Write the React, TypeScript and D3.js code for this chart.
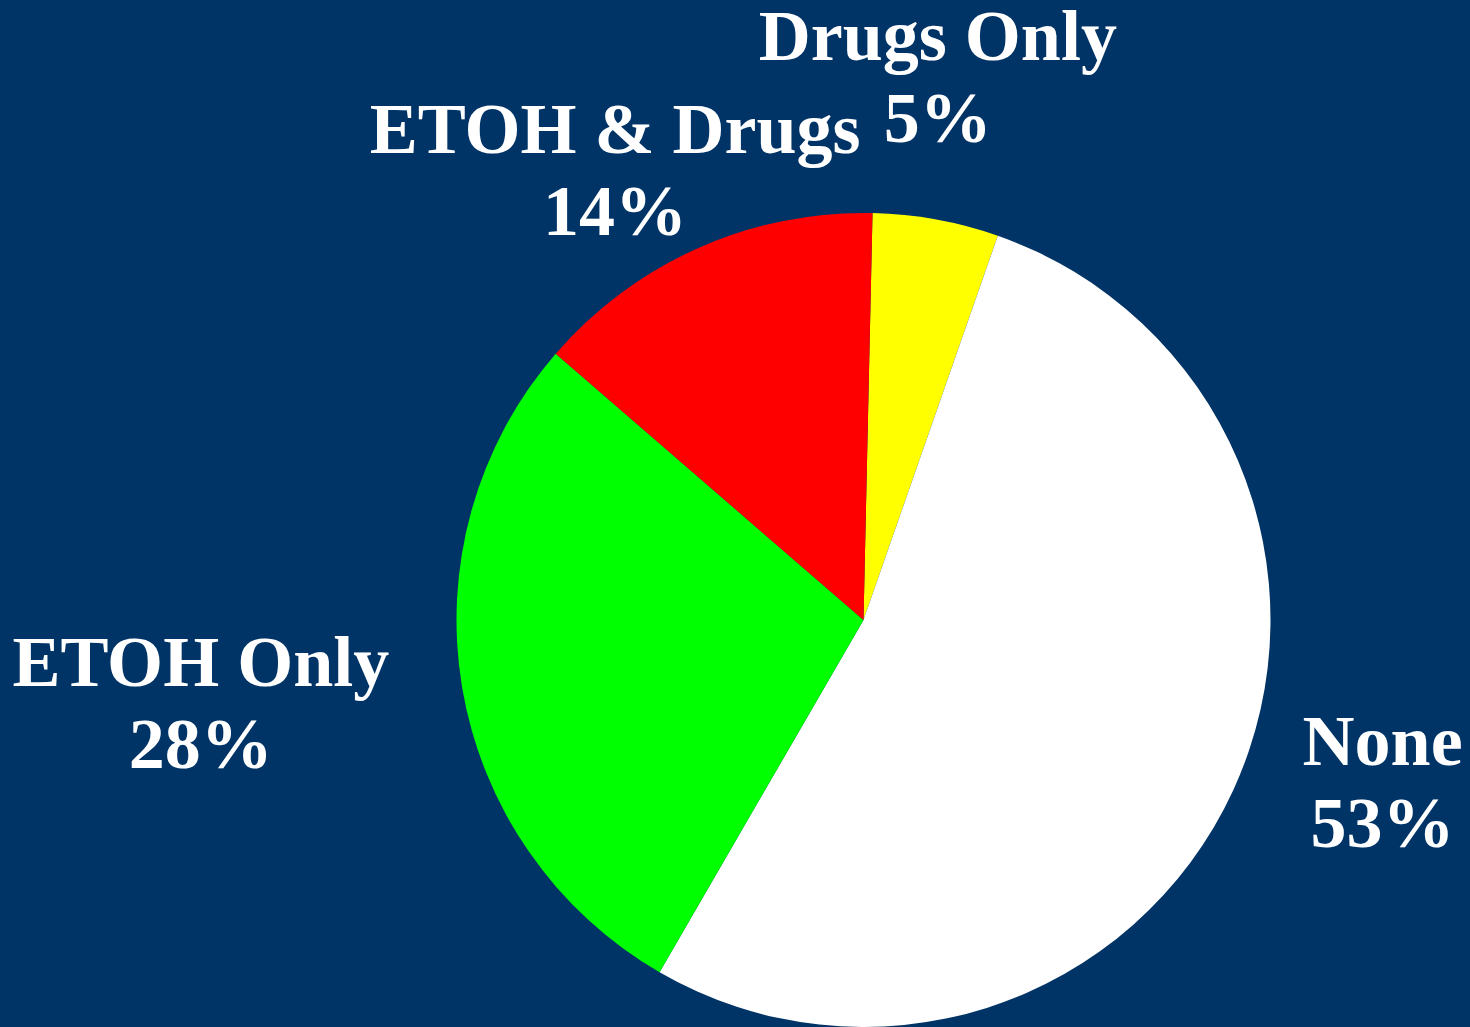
import React from "react";
import * as d3 from "d3";

const categories = ["Drugs Only", "None", "ETOH Only", "ETOH & Drugs"];
const values = [5, 53, 28, 14];
const colors = ["#FFFF00", "#FFFFFF", "#00FF00", "#FF0000"];

// label placement (polar, degrees clockwise from top, radius in px)
const labelAngles = [7.8, 107.4, 262.8, 331.1];
const labelRadii = [548, 544, 668, 514];

const W = 1470;
const H = 1027;
const CX = 863.5;
const CY = 620;
const R = 407;
const START = (1.27 * Math.PI) / 180;

export default function App() {
  const pie = d3
    .pie<number>()
    .sort(null)
    .value((d) => d)
    .startAngle(START)
    .endAngle(START + 2 * Math.PI);
  const arcs = pie(values);
  const arc = d3.arc<d3.PieArcDatum<number>>().innerRadius(0).outerRadius(R);
  const fontSize = 72;
  const lineGap = 82;

  return (
    <svg
      width={W}
      height={H}
      style={{ position: "absolute", left: 0, top: 0, display: "block" }}
    >
      <rect x={0} y={0} width={W} height={H} fill="#003366" />
      <g transform={`translate(${CX},${CY})`}>
        {arcs.map((a, i) => (
          <path key={i} d={arc(a) || ""} fill={colors[i]} />
        ))}
        {arcs.map((a, i) => {
          const ang = (labelAngles[i] * Math.PI) / 180;
          const x = Math.sin(ang) * labelRadii[i];
          const y = -Math.cos(ang) * labelRadii[i];
          const capHalf = fontSize * 0.33;
          const b1 = y - lineGap / 2 + capHalf;
          return (
            <text
              key={"l" + i}
              x={x}
              textAnchor="middle"
              fill="#FFFFFF"
              fontFamily="'Liberation Serif', 'Times New Roman', serif"
              fontWeight="bold"
              fontSize={fontSize}
            >
              <tspan x={x} y={b1}>
                {categories[i]}
              </tspan>
              <tspan x={x} y={b1 + lineGap}>
                {`${values[i]}%`}
              </tspan>
            </text>
          );
        })}
      </g>
    </svg>
  );
}
